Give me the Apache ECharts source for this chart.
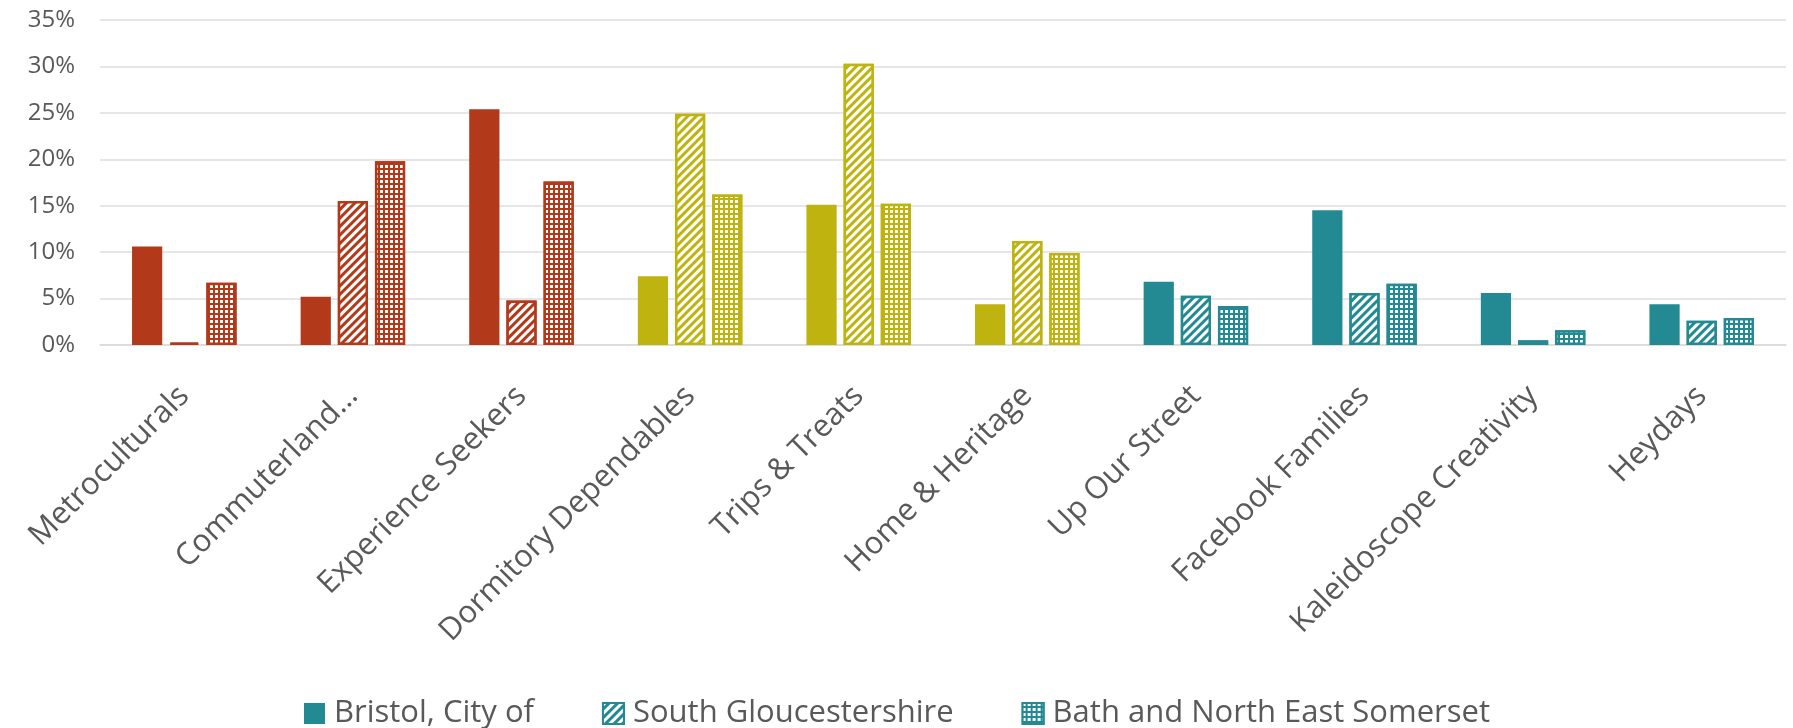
<!DOCTYPE html>
<html>
<head>
<meta charset="utf-8">
<script src="https://cdn.jsdelivr.net/npm/echarts@6/dist/echarts.min.js"></script>
<style>
  html, body { margin: 0; padding: 0; background: #fff; }
  #chart { width: 1793px; height: 728px; }
</style>
</head>
<body>
<div id="chart"></div>
<script>
const categories = [
  "Metroculturals", "Commuterland…", "Experience Seekers", "Dormitory Dependables",
  "Trips & Treats", "Home & Heritage", "Up Our Street", "Facebook Families",
  "Kaleidoscope Creativity", "Heydays"
];
const seriesNames = ["Bristol, City of", "South Gloucestershire", "Bath and North East Somerset"];
const bristol = [10.6, 5.2, 25.4, 7.4, 15.1, 4.4, 6.8, 14.5, 5.6, 4.4];
const southGlos = [0.25, 15.5, 4.8, 24.9, 30.3, 11.2, 5.3, 5.6, 0.5, 2.6];
const banes = [6.7, 19.8, 17.6, 16.2, 15.2, 9.9, 4.2, 6.6, 1.6, 2.9];
const yTicks = [0, 5, 10, 15, 20, 25, 30, 35];

// colour of each category group (red / olive / teal)
const red = "#B2391A", olive = "#BFB30F", teal = "#238A93";
const groupColors = [red, red, red, olive, olive, olive, teal, teal, teal, teal];

const stripes = {
  color: "#ffffff", symbol: "rect", symbolSize: 1,
  dashArrayX: [1, 0], dashArrayY: [3, 3], rotation: -Math.PI / 4
};
const dots = {
  color: "#ffffff", symbol: "rect", symbolSize: 1,
  dashArrayX: [3, 1.5], dashArrayY: [2.5, 1.5], rotation: 0
};

function items(values, bordered) {
  return values.map((v, i) => ({
    value: v,
    itemStyle: bordered
      ? { color: groupColors[i], borderColor: groupColors[i], borderWidth: 2.5 }
      : { color: groupColors[i] }
  }));
}

function bar(name, values, decal) {
  const s = {
    name: name,
    type: "bar",
    barGap: "23%",
    barCategoryGap: "38%",
    data: items(values, !!decal),
    itemStyle: { color: teal }
  };
  if (decal) {
    s.itemStyle = { color: teal, borderColor: teal, borderWidth: 2.5, decal: decal };
  }
  return s;
}

const chart = echarts.init(document.getElementById("chart"));
chart.setOption({
  animation: false,
  textStyle: { fontFamily: "Open Sans" },
  grid: { left: 100, right: 7, top: 20, bottom: 383, containLabel: false },
  legend: {
    left: 299,
    top: 693,
    icon: "rect",
    itemWidth: 21,
    itemHeight: 21,
    itemGap: 68,
    textStyle: { fontSize: 31, color: "#595959", fontFamily: "Open Sans", padding: [0, 0, 0, 4] },
    data: seriesNames
  },
  xAxis: {
    type: "category",
    data: categories,
    axisTick: { show: false },
    axisLine: { lineStyle: { color: "#d9d9d9", width: 1.5 } },
    axisLabel: {
      rotate: 45,
      interval: 0,
      margin: 46,
      fontSize: 31,
      color: "#595959",
      fontFamily: "Open Sans"
    }
  },
  yAxis: {
    type: "value",
    min: yTicks[0],
    max: yTicks[yTicks.length - 1],
    interval: 5,
    axisLine: { show: false },
    axisTick: { show: false },
    splitLine: { lineStyle: { color: "#e6e6e6", width: 2 } },
    axisLabel: {
      formatter: "{value}%",
      fontSize: 24,
      margin: 25,
      color: "#595959",
      fontFamily: "Open Sans"
    }
  },
  series: [
    bar(seriesNames[0], bristol, null),
    bar(seriesNames[1], southGlos, stripes),
    bar(seriesNames[2], banes, dots)
  ]
});
</script>
</body>
</html>
